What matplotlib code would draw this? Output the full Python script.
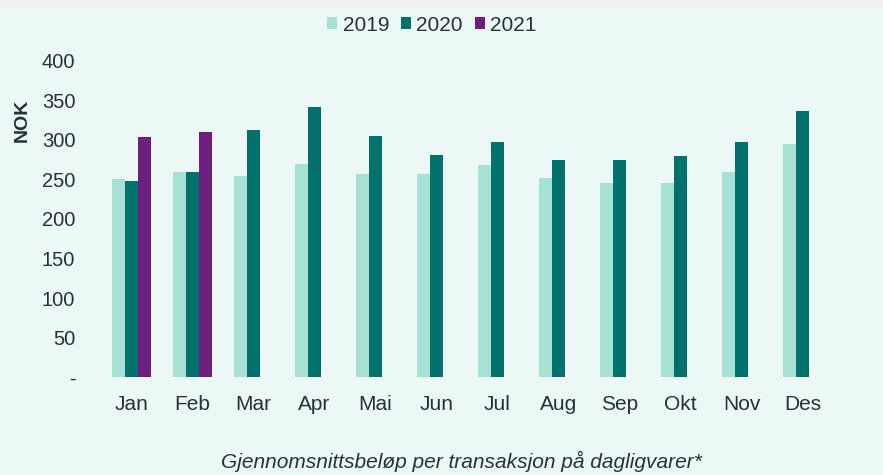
import matplotlib.pyplot as plt
import numpy as np

months = ['Jan', 'Feb', 'Mar', 'Apr', 'Mai', 'Jun', 'Jul', 'Aug', 'Sep', 'Okt', 'Nov', 'Des']
vals_2019 = [250, 259, 254, 270, 257, 257, 268, 252, 245, 246, 260, 295]
vals_2020 = [248, 259, 313, 341, 305, 281, 297, 275, 274, 280, 297, 336]
vals_2021 = [304, 310, np.nan, np.nan, np.nan, np.nan, np.nan, np.nan, np.nan, np.nan, np.nan, np.nan]
years = ['2019', '2020', '2021']
colors = ['#a6e1d4', '#00716b', '#6c1f7f']
yticks = [0, 50, 100, 150, 200, 250, 300, 350, 400]
ytick_labels = ['-', '50', '100', '150', '200', '250', '300', '350', '400']

bg = '#ecf8f6'
txt = '#263238'
plt.rcParams['font.family'] = ['Liberation Sans', 'DejaVu Sans']

fig = plt.figure(figsize=(8.83, 4.75), dpi=100, facecolor=bg)
# light grey strip on top
fig.patches.append(plt.Rectangle((0, 1 - 7 / 475), 1, 7 / 475, transform=fig.transFigure,
                                 color='#f0f0f0', zorder=0))
ax = fig.add_axes([0.1144, 0.2057, 0.829, 0.6665])
ax.set_facecolor(bg)

x = np.arange(len(months))
w = 0.218
for i, (vals, yr, c) in enumerate(zip([vals_2019, vals_2020, vals_2021], years, colors)):
    ax.bar(x + (i - 1) * w, vals, width=w, color=c, label=yr)

ax.set_xlim(-0.5, len(months) - 0.5)
ax.set_ylim(0, 400)
ax.set_yticks(yticks)
ax.set_yticklabels(ytick_labels)
ax.set_xticks(x)
ax.set_xticklabels(months)
ax.tick_params(axis='y', length=0, pad=18.5, labelsize=14.5, labelcolor=txt)
ax.tick_params(axis='x', length=0, pad=12.5, labelsize=15, labelcolor=txt)
for s in ax.spines.values():
    s.set_visible(False)

fig.text(0.025, 0.747, 'NOK', rotation=90, fontsize=14, fontweight='bold',
         color=txt, ha='center', va='center')

fig.legend(loc='center', bbox_to_anchor=(0.489, 0.947), ncol=3, frameon=False,
           fontsize=15, labelcolor=txt, handlelength=0.5, handleheight=0.5,
           handletextpad=0.25, columnspacing=0.56)

fig.text(0.523, 0.029, 'Gjennomsnittsbeløp per transaksjon på dagligvarer*',
         fontsize=15, fontstyle='italic', color=txt, ha='center', va='center')

fig.savefig('out.png', dpi=100, facecolor=bg)
